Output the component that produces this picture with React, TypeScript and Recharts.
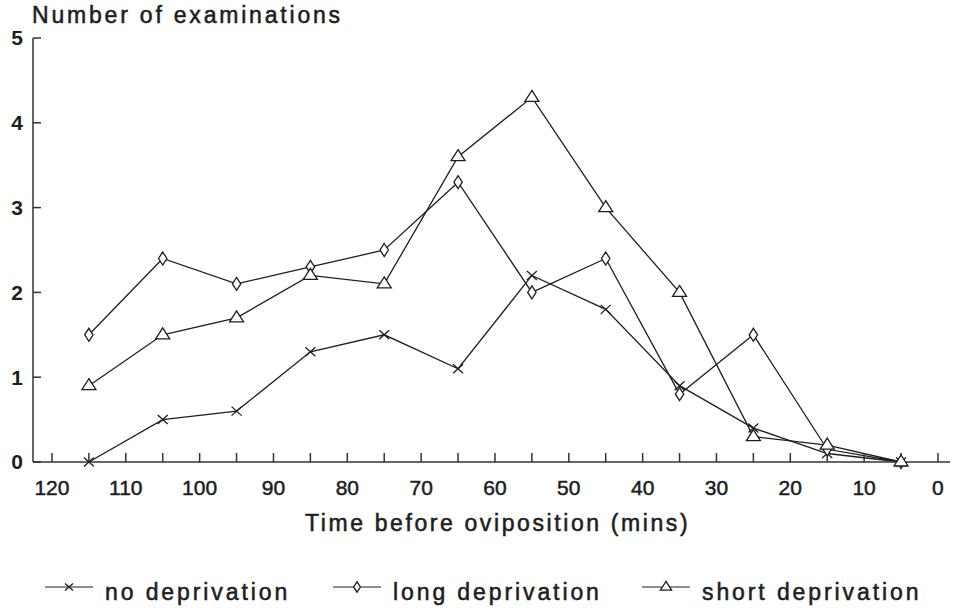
import { LineChart, Line, XAxis, YAxis } from 'recharts'

// minutes before oviposition (bin centres)
const minutes = [115, 105, 95, 85, 75, 65, 55, 45, 35, 25, 15, 5]
const noDeprivation = [0, 0.5, 0.6, 1.3, 1.5, 1.1, 2.2, 1.8, 0.9, 0.4, 0.1, 0]
const longDeprivation = [1.5, 2.4, 2.1, 2.3, 2.5, 3.3, 2.0, 2.4, 0.8, 1.5, 0.15, 0]
const shortDeprivation = [0.9, 1.5, 1.7, 2.2, 2.1, 3.6, 4.3, 3.0, 2.0, 0.3, 0.2, 0]

const xTicks = [120, 115, 110, 105, 100, 95, 90, 85, 80, 75, 70, 65, 60, 55, 50, 45, 40, 35, 30, 25, 20, 15, 10, 5, 0]
const yTicks = [0, 1, 2, 3, 4, 5]

const seriesNames = ['no deprivation', 'long deprivation', 'short deprivation']
const yTitle = 'Number of examinations'
const xTitle = 'Time before oviposition (mins)'

const data = minutes.map((m, i) => ({
    t: m,
    none: noDeprivation[i],
    long: longDeprivation[i],
    short: shortDeprivation[i],
}))

const INK = '#1e1e1e'
const FONT = '"Liberation Sans", Arial, Helvetica, sans-serif'

const Cross = ({ cx, cy, s = 1 }: any) => (
    <path
        d={`M${cx - 5 * s},${cy - 4.5 * s}L${cx + 5 * s},${cy + 4.5 * s}M${cx - 5 * s},${cy + 4.5 * s}L${cx + 5 * s},${cy - 4.5 * s}`}
        stroke={INK}
        strokeWidth={1.3}
        fill="none"
    />
)

const Diamond = ({ cx, cy, s = 1 }: any) => (
    <path
        d={`M${cx},${cy - 6.5 * s}L${cx + 4.2 * s},${cy}L${cx},${cy + 6.5 * s}L${cx - 4.2 * s},${cy}Z`}
        stroke={INK}
        strokeWidth={1.3}
        fill="#fff"
    />
)

const Triangle = ({ cx, cy, s = 1 }: any) => (
    <path
        d={`M${cx},${cy - 7 * s}L${cx + 7 * s},${cy + 4 * s}L${cx - 7 * s},${cy + 4 * s}Z`}
        stroke={INK}
        strokeWidth={1.3}
        fill="#fff"
    />
)

const markers = [Cross, Diamond, Triangle]
const legendX = [45, 333, 642]

export default function App() {
    return (
        <div style={{ position: 'absolute', left: 0, top: 0, width: 956, height: 613, background: '#fff' }}>
            <LineChart
                width={956}
                height={613}
                data={data}
                margin={{ top: 38, right: 6, left: 0, bottom: 111 }}
            >
                <XAxis
                    dataKey="t"
                    type="number"
                    domain={[-1.63, 122.57]}
                    reversed
                    ticks={xTicks}
                    interval={0}
                    height={40}
                    tickSize={-9}
                    tickMargin={27}
                    tickFormatter={(v) => (v % 10 === 0 ? String(v) : '')}
                    stroke="#333"
                    strokeWidth={1.5}
                    tick={{ fill: INK, stroke: INK, strokeWidth: 0.5, fontSize: 21, fontFamily: FONT }}
                />
                <YAxis
                    type="number"
                    domain={[0, 5]}
                    ticks={yTicks}
                    interval={0}
                    width={33}
                    tickSize={-8}
                    tickMargin={18}
                    stroke="#333"
                    strokeWidth={1.5}
                    tick={{ fill: INK, fontSize: 21, fontWeight: 700, fontFamily: FONT }}
                />
                <Line
                    dataKey="none"
                    stroke={INK}
                    strokeWidth={1.3}
                    isAnimationActive={false}
                    dot={(p: any) => <Cross key={`n-${p.index}`} cx={p.cx} cy={p.cy} />}
                    activeDot={false}
                />
                <Line
                    dataKey="long"
                    stroke={INK}
                    strokeWidth={1.3}
                    isAnimationActive={false}
                    dot={(p: any) => <Diamond key={`l-${p.index}`} cx={p.cx} cy={p.cy} />}
                    activeDot={false}
                />
                <Line
                    dataKey="short"
                    stroke={INK}
                    strokeWidth={1.3}
                    isAnimationActive={false}
                    dot={(p: any) => <Triangle key={`s-${p.index}`} cx={p.cx} cy={p.cy} />}
                    activeDot={false}
                />
            </LineChart>

            {/* titles and legend */}
            <svg width={956} height={613} style={{ position: 'absolute', left: 0, top: 0, pointerEvents: 'none' }}>
                <g fontFamily={FONT} fontSize={23} fill={INK} stroke={INK} strokeWidth={0.55}>
                    <text x={32} y={23} letterSpacing={2.8}>
                        {yTitle}
                    </text>
                    <text x={305} y={531} letterSpacing={2.6}>
                        {xTitle}
                    </text>
                </g>
                {seriesNames.map((name, i) => {
                    const M = markers[i]
                    const x0 = legendX[i]
                    return (
                        <g key={name}>
                            <line x1={x0} x2={x0 + 48} y1={587} y2={587} stroke={INK} strokeWidth={1.2} />
                            <M cx={x0 + 24} cy={587} s={0.8} />
                            <text
                                x={x0 + 60}
                                y={600}
                                fontFamily={FONT}
                                fontSize={23}
                                letterSpacing={2.9}
                                fill={INK}
                                stroke={INK}
                                strokeWidth={0.55}
                            >
                                {name}
                            </text>
                        </g>
                    )
                })}
            </svg>
        </div>
    )
}
